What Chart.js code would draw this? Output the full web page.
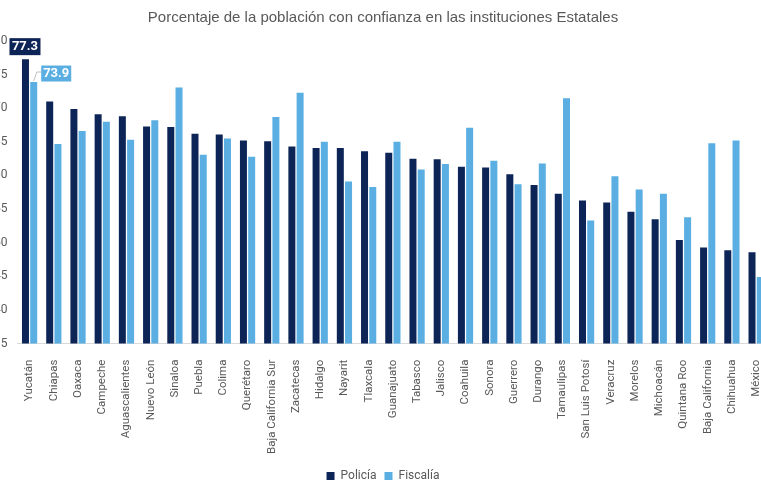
<!DOCTYPE html>
<html>
<head>
<meta charset="utf-8">
<script src="https://cdn.jsdelivr.net/npm/chart.js@4"></script>
<style>
  html, body { margin: 0; padding: 0; background: #fff; overflow: hidden; }
  #wrap { position: absolute; left: -8px; top: 0; width: 786px; height: 492px; }
</style>
</head>
<body>
<div id="wrap"><canvas id="confianza-chart"></canvas></div>
<script>
const estados = ['Yucatán', 'Chiapas', 'Oaxaca', 'Campeche', 'Aguascalientes', 'Nuevo León', 'Sinaloa',
  'Puebla', 'Colima', 'Querétaro', 'Baja California Sur', 'Zacatecas', 'Hidalgo', 'Nayarit', 'Tlaxcala',
  'Guanajuato', 'Tabasco', 'Jalisco', 'Coahuila', 'Sonora', 'Guerrero', 'Durango', 'Tamaulipas',
  'San Luis Potosí', 'Veracruz', 'Morelos', 'Michoacán', 'Quintana Roo', 'Baja California', 'Chihuahua', 'México'];

const policia = [77.3, 71.0, 69.9, 69.1, 68.8, 67.3, 67.2, 66.2, 66.1, 65.2, 65.1, 64.3, 64.1, 64.1, 63.6,
  63.4, 62.5, 62.4, 61.3, 61.2, 60.2, 58.6, 57.3, 56.3, 56.0, 54.6, 53.5, 50.4, 49.3, 48.9, 48.6];

const fiscalia = [73.9, 64.7, 66.6, 68.0, 65.3, 68.2, 73.1, 63.1, 65.5, 62.8, 68.7, 72.3, 65.0, 59.1, 58.3,
  65.0, 60.9, 61.7, 67.1, 62.2, 58.7, 61.8, 71.5, 53.3, 59.9, 57.9, 57.3, 53.8, 64.8, 65.2, 44.9];

const yTicks = { min: 35, max: 80, step: 5 };

const gris = '#595959';

// etiquetas solo para Yucatán
const etiquetasYucatan = {
  id: 'etiquetasYucatan',
  afterDatasetsDraw(chart) {
    const ctx = chart.ctx;
    const p = chart.getDatasetMeta(0).data[0];
    const f = chart.getDatasetMeta(1).data[0];
    ctx.save();
    ctx.font = 'bold 13px Roboto';
    ctx.textAlign = 'center';
    ctx.textBaseline = 'middle';

    // Policía
    let cx = p.x - 0.5, cy = p.y - 12.5;
    ctx.fillStyle = '#0d2556';
    ctx.fillRect(cx - 15.5, cy - 8.5, 31, 17);
    ctx.fillStyle = '#fff';
    ctx.fillText(policia[0].toFixed(1), cx, cy + 0.5);

    // Fiscalía con línea guía
    ctx.strokeStyle = '#bfbfbf';
    ctx.lineWidth = 1;
    ctx.beginPath();
    ctx.moveTo(f.x, f.y - 1);
    ctx.lineTo(f.x + 3, f.y - 10);
    ctx.lineTo(f.x + 8, f.y - 10);
    ctx.stroke();
    cx = f.x + 22.5; cy = f.y - 8.5;
    ctx.fillStyle = '#5aaee2';
    ctx.fillRect(cx - 15, cy - 8, 30, 16);
    ctx.fillStyle = '#fff';
    ctx.fillText(fiscalia[0].toFixed(1), cx, cy + 0.5);
    ctx.restore();
  }
};

new Chart(document.getElementById('confianza-chart').getContext('2d'), {
  type: 'bar',
  data: {
    labels: estados,
    datasets: [
      { label: 'Policía', data: policia, backgroundColor: '#0d2556' },
      { label: 'Fiscalía', data: fiscalia, backgroundColor: '#5aaee2' },
    ],
  },
  options: {
    responsive: true,
    maintainAspectRatio: false,
    animation: false,
    barPercentage: 0.85,
    categoryPercentage: 0.68,
    layout: { padding: { right: 4, bottom: 0 } },
    plugins: {
      title: {
        display: true,
        text: 'Porcentaje de la población con confianza en las instituciones Estatales',
        color: gris,
        font: { family: 'Liberation Sans', size: 15, weight: 'normal' },
        padding: { top: 9, bottom: 14 },
      },
      legend: {
        position: 'bottom',
        labels: {
          color: gris,
          font: { family: 'Roboto', size: 12 },
          boxWidth: 8,
          boxHeight: 8,
          padding: 8,
        },
      },
      tooltip: { enabled: false },
    },
    scales: {
      x: {
        grid: { display: false },
        border: { display: true, color: '#d9d9d9' },
        ticks: {
          color: gris,
          font: { family: 'Roboto', size: 11.5 },
          minRotation: 90,
          maxRotation: 90,
          autoSkip: false,
          padding: 8,
        },
      },
      y: {
        min: yTicks.min,
        max: yTicks.max,
        grid: { display: false },
        border: { display: false },
        ticks: {
          stepSize: yTicks.step,
          color: gris,
          font: { family: 'Roboto', size: 12 },
          padding: 2,
        },
      },
    },
  },
  plugins: [etiquetasYucatan],
});
</script>
</body>
</html>
